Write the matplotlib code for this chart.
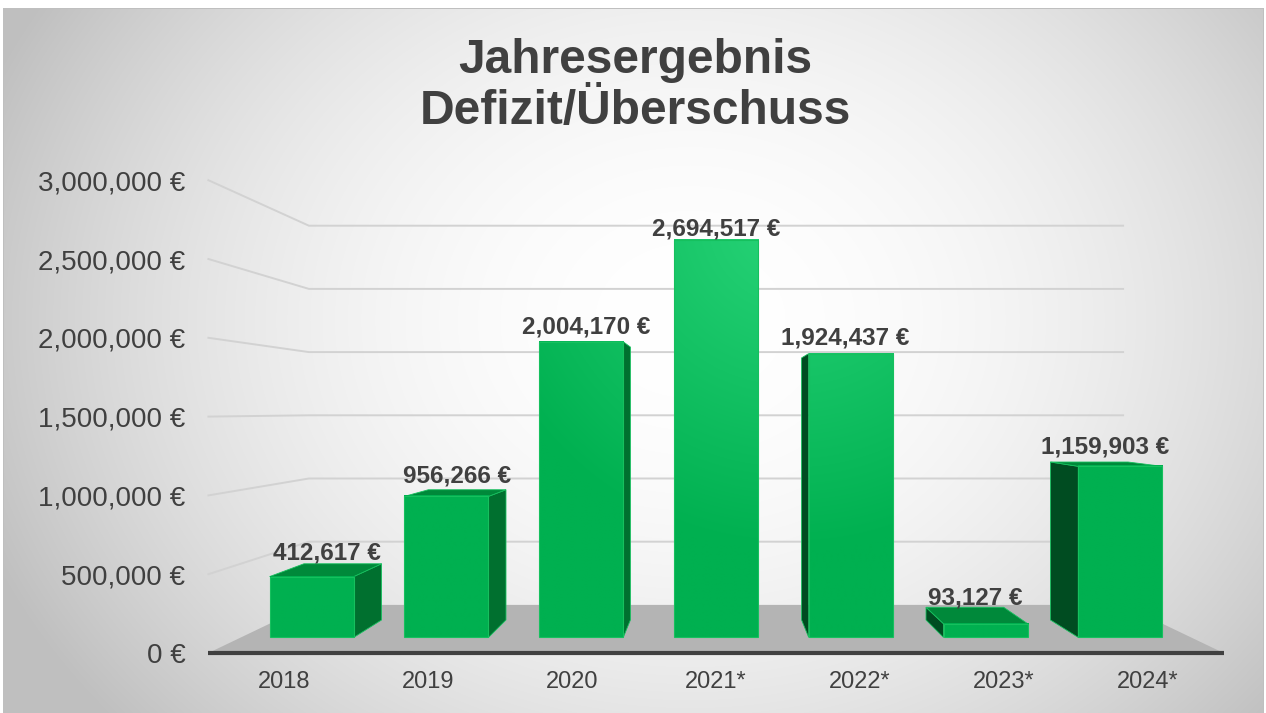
import numpy as np
import matplotlib
matplotlib.use('Agg')
import matplotlib.pyplot as plt
from matplotlib.patches import Polygon
from matplotlib.ticker import FuncFormatter

plt.rcParams['font.family'] = ['Liberation Sans', 'DejaVu Sans']

# data
years = ['2018', '2019', '2020', '2021*', '2022*', '2023*', '2024*']
results = [412617, 956266, 2004170, 2694517, 1924437, 93127, 1159903]
y_ticks = [0, 500000, 1000000, 1500000, 2000000, 2500000, 3000000]
title = 'Jahresergebnis\nDefizit/Überschuss'

# Excel-like 3D perspective settings
W, H = 1266, 713
PX_CAT = 144.0          # px per category on the front edge of the floor
PX_VAL = 157.6e-6       # px per euro on the front edge
X0_PX, Y0_PX = 716.0, 653.0
VP_X = 3.0              # vanishing point (data units)
VP_V = (Y0_PX - 410.0) / PX_VAL
S_BACK = 0.802          # depth scale of back wall
S_BAR_FRONT = 0.936
S_BAR_BACK = 0.864
HALF_W = 0.312
X_HALF = 3.525

TEXT = '#404040'
FRONT = np.array([0, 176, 80]) / 255
FRONT_LIGHT = np.array([40, 212, 120]) / 255
SIDE_R = '#00702f'
SIDE_L = '#004c21'
TOP = '#00893a'
EDGE = '#16c05e'


def proj(x, v, s):
    x = np.asarray(x, dtype=float)
    v = np.asarray(v, dtype=float)
    return VP_X + s * (x - VP_X), VP_V + s * (v - VP_V)


def face(ax, xs, vs, ss, color, z):
    px, pv = proj(xs, vs, np.asarray(ss))
    ax.add_patch(Polygon(np.column_stack([px, pv]), closed=True, fc=color,
                         ec=EDGE, lw=0.6, zorder=z))


fig = plt.figure(figsize=(W / 100, H / 100), dpi=100)

# background with radial gradient and thin frame
bg = fig.add_axes([0, 0, 1, 1], zorder=-10)
bg.axis('off')
yy, xx = np.mgrid[0:H, 0:W]
d = np.sqrt(((xx - 690) / 760) ** 2 + ((yy - 320) / 620) ** 2)
g = (255 - 64 * np.clip(d, 0, 1) ** 2.0) / 255
g[(yy < 8) | (xx < 3) | (xx > 1263)] = 1.0
g[8, 3:1264] = 0.75
g[8:, 3] = 0.75
g[8:, 1263] = 0.75
bg.imshow(np.dstack([g, g, g]), extent=[0, W, H, 0], aspect='auto', interpolation='nearest')
bg.set_xlim(0, W)
bg.set_ylim(H, 0)

ax = fig.add_axes([(X0_PX - X_HALF * PX_CAT) / W, (H - Y0_PX) / H,
                   2 * X_HALF * PX_CAT / W, y_ticks[-1] * PX_VAL / H])
ax.patch.set_visible(False)
xmin, xmax = VP_X - X_HALF, VP_X + X_HALF

# gridlines on back wall
for t in y_ticks[1:]:
    gx, gv = proj([xmin, xmin, xmax], [t, t, t], np.array([1, S_BACK, S_BACK]))
    ax.plot(gx, gv, color='#d2d2d2', lw=1.4, zorder=1, clip_on=False)

# floor
fx, fv = proj([xmin, xmax, xmax, xmin], [0, 0, 0, 0], np.array([1, 1, S_BACK, S_BACK]))
ax.add_patch(Polygon(np.column_stack([fx, fv]), closed=True, fc='#b4b4b4', ec='none', zorder=2))
ax.plot([xmin, xmax], [0, 0], color='#404040', lw=3, zorder=2.5, clip_on=False,
        solid_capstyle='butt')

# bars
for i, v in enumerate(results):
    xl, xr = i - HALF_W, i + HALF_W
    sf, sb = S_BAR_FRONT, S_BAR_BACK
    if xr < VP_X:
        face(ax, [xr, xr, xr, xr], [0, 0, v, v], [sf, sb, sb, sf], SIDE_R, 3)
    elif xl > VP_X:
        face(ax, [xl, xl, xl, xl], [0, 0, v, v], [sf, sb, sb, sf], SIDE_L, 3)
    if v < VP_V:
        face(ax, [xl, xr, xr, xl], [v, v, v, v], [sf, sf, sb, sb], TOP, 3.5)

    # front face with soft light
    pxl, pvb = proj(xl, 0, sf)
    pxr, pvt = proj(xr, v, sf)
    cx = np.linspace(pxl, pxr, 24)
    cv = np.linspace(pvb, pvt, 80)
    CX, CV = np.meshgrid(cx, cv)
    sx = X0_PX + (CX - VP_X) * PX_CAT
    sy = Y0_PX - CV * PX_VAL
    tt = np.clip(1 - np.hypot(sx - 790, sy - 220) / 330, 0, 1)[..., None]
    img = FRONT + tt * (FRONT_LIGHT - FRONT)
    ax.imshow(img, extent=[pxl, pxr, pvb, pvt], origin='lower', aspect='auto',
              interpolation='bilinear', zorder=4)
    ax.add_patch(Polygon([[pxl, pvb], [pxr, pvb], [pxr, pvt], [pxl, pvt]], closed=True,
                         fc='none', ec=EDGE, lw=0.8, zorder=4.5))

    lx, lv = proj(i, v, 0.9)
    ax.annotate(f'{v:,.0f} €', (lx, lv), xytext=(0, 12.5), textcoords='offset points',
                ha='center', va='center', fontsize=17.5, fontweight='bold', color=TEXT,
                zorder=10, annotation_clip=False)

ax.set_xlim(xmin, xmax)
ax.set_ylim(0, y_ticks[-1])
ax.set_aspect('auto')

ax.set_yticks(y_ticks)
ax.yaxis.set_major_formatter(FuncFormatter(lambda v, _: f'{v:,.0f} €'))
ax.tick_params(axis='y', length=0, pad=16.5, labelsize=20, labelcolor=TEXT)
ax.set_xticks(range(len(years)))
ax.set_xticklabels(years)
ax.tick_params(axis='x', length=0, pad=13, labelsize=17, labelcolor=TEXT)
for sp in ax.spines.values():
    sp.set_visible(False)

fig.text(635 / W, 1 - 86 / H, title, ha='center', va='center', fontsize=34.5,
         fontweight='bold', color=TEXT, linespacing=1.18)

fig.savefig('out.png', dpi=100)
